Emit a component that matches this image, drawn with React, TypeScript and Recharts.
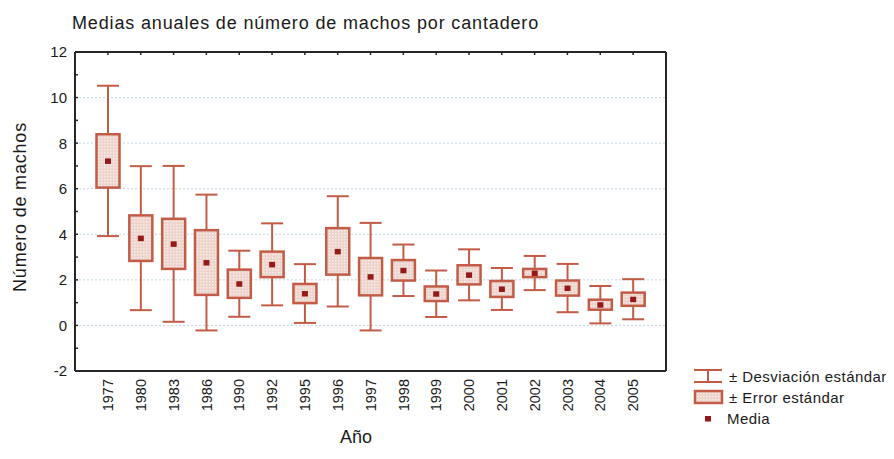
import React from 'react';
import { ComposedChart, Bar, XAxis, YAxis, CartesianGrid } from 'recharts';

const years = ['1977', '1980', '1983', '1986', '1990', '1992', '1995', '1996', '1997', '1998', '1999', '2000', '2001', '2002', '2003', '2004', '2005'];
const means = [7.22, 3.83, 3.58, 2.76, 1.83, 2.68, 1.4, 3.25, 2.14, 2.42, 1.39, 2.22, 1.6, 2.3, 1.64, 0.91, 1.15];
const stdErrs = [1.17, 1.0, 1.1, 1.42, 0.62, 0.56, 0.42, 1.02, 0.82, 0.45, 0.32, 0.42, 0.35, 0.18, 0.33, 0.22, 0.29];
const stdDevs = [3.3, 3.16, 3.42, 2.98, 1.45, 1.8, 1.29, 2.42, 2.36, 1.13, 1.02, 1.12, 0.92, 0.75, 1.06, 0.82, 0.88];
const yGridValues = [-2, 0, 2, 4, 6, 8, 10, 12];
const yAllTicks = [-2, -1, 0, 1, 2, 3, 4, 5, 6, 7, 8, 9, 10, 11, 12];
const yRightTicks = [0, 2, 4, 6, 8, 10];

const data = years.map((year, i) => ({
  year,
  mean: means[i],
  se: stdErrs[i],
  sd: stdDevs[i],
  sdRange: [means[i] - stdDevs[i], means[i] + stdDevs[i]],
}));

const STROKE = '#c25c47';
const MEAN_C = '#961818';
const FONT = '"Liberation Sans", Arial, sans-serif';
const TXT = '#1a1a1a';
const FRAME = '#262626';

function BoxShape(props: any) {
  const { x, y, width, height, payload } = props;
  if (!payload || height == null) return null;
  const lo = payload.mean - payload.sd;
  const hi = payload.mean + payload.sd;
  const toPx = (v: number) => y + ((hi - v) / (hi - lo)) * height;
  const cx = x + width / 2;
  const boxTop = toPx(payload.mean + payload.se);
  const boxBot = toPx(payload.mean - payload.se);
  const my = toPx(payload.mean);
  return (
    <g>
      <line x1={cx} x2={cx} y1={y} y2={boxTop} stroke={STROKE} strokeWidth={2} />
      <line x1={cx} x2={cx} y1={boxBot} y2={y + height} stroke={STROKE} strokeWidth={2} />
      <line x1={x + 0.5} x2={x + width - 0.5} y1={y} y2={y} stroke={STROKE} strokeWidth={2} />
      <line x1={x + 0.5} x2={x + width - 0.5} y1={y + height} y2={y + height} stroke={STROKE} strokeWidth={2} />
      <rect x={x} y={boxTop} width={width} height={boxBot - boxTop} fill="url(#dotFill)" stroke={STROKE} strokeWidth={2.5} />
      <rect x={cx - 3} y={my - 2.5} width={6} height={5.5} fill={MEAN_C} />
    </g>
  );
}

function YearTick(props: any) {
  const { x, y, payload } = props;
  return (
    <g transform={`translate(${x},${y})`}>
      <text transform="rotate(-90)" textAnchor="end" dy="0.36em" fontSize={14.5} fill={TXT} fontFamily={FONT}>
        {payload.value}
      </text>
    </g>
  );
}

function TopInTick(props: any) {
  const { x, y } = props;
  return <line x1={x} x2={x} y1={y} y2={y + 3} stroke={FRAME} strokeWidth={1.5} />;
}
function LeftTick(props: any) {
  const { x, y, payload } = props;
  const v = payload.value;
  return (
    <g>
      {v > -2 && v < 12 ? <line x1={x} x2={x + 3} y1={y} y2={y} stroke={FRAME} strokeWidth={1.5} /> : null}
      {v % 2 === 0 ? (
        <text x={x - 8} y={y} dy="0.36em" textAnchor="end" fontSize={15} fill={TXT} fontFamily={FONT}>
          {v}
        </text>
      ) : null}
    </g>
  );
}
function RightInTick(props: any) {
  const { x, y } = props;
  return <line x1={x - 3} x2={x} y1={y} y2={y} stroke={FRAME} strokeWidth={1.5} />;
}

export default function App() {
  return (
    <div style={{ position: 'relative', width: 886, height: 443, background: '#fff', fontFamily: FONT }}>
      <ComposedChart
        width={886}
        height={443}
        data={data}
        margin={{ top: 43, right: 227, bottom: 20, left: 10 }}
        barCategoryGap={0}
      >
        <defs>
          <pattern id="dotFill" width={3} height={3} patternUnits="userSpaceOnUse">
            <rect width={3} height={3} fill="#ecd3cc" />
            <rect width={1.5} height={1.5} fill="#f8ece8" />
          </pattern>
        </defs>
        <CartesianGrid vertical={false} stroke="#c3d9e6" strokeDasharray="2 2" horizontalValues={yGridValues} />
        <XAxis
          dataKey="year"
          type="category"
          padding={{ left: 16.5, right: 16.5 }}
          height={60}
          tickLine={false}
          axisLine={{ stroke: FRAME, strokeWidth: 2 }}
          interval={0}
          tick={<YearTick />}
        />
        <XAxis
          xAxisId="top"
          orientation="top"
          dataKey="year"
          type="category"
          padding={{ left: 16.5, right: 16.5 }}
          height={1}
          tick={<TopInTick />}
          tickSize={0}
          tickMargin={0}
          tickLine={false}
          axisLine={{ stroke: FRAME, strokeWidth: 2 }}
          interval={0}
        />
        <YAxis
          type="number"
          domain={[-2, 12]}
          ticks={yAllTicks}
          width={57}
          tickSize={0}
          tickMargin={0}
          tickLine={false}
          axisLine={{ stroke: FRAME, strokeWidth: 2 }}
          tick={<LeftTick />}
          interval={0}
        />
        <YAxis
          yAxisId="right"
          orientation="right"
          type="number"
          domain={[-2, 12]}
          ticks={yRightTicks}
          width={1}
          tick={<RightInTick />}
          tickSize={0}
          tickMargin={0}
          tickLine={false}
          axisLine={{ stroke: FRAME, strokeWidth: 2 }}
          interval={0}
        />
        <Bar dataKey="sdRange" barSize={23} shape={<BoxShape />} isAnimationActive={false} />
      </ComposedChart>
      <svg width={886} height={443} style={{ position: 'absolute', left: 0, top: 0, pointerEvents: 'none' }}>
        <text x={64} y={21} fontSize={18} letterSpacing={0.85} fill={TXT} fontFamily={FONT}>
          Medias anuales de número de machos por cantadero
        </text>
        <text
          transform="translate(12,199) rotate(-90)"
          textAnchor="middle"
          dy="0.36em"
          fontSize={18}
          letterSpacing={0.8}
          fill={TXT}
          fontFamily={FONT}
        >
          Número de machos
        </text>
        <text x={348} y={435} textAnchor="middle" fontSize={18} fill={TXT} fontFamily={FONT}>
          Año
        </text>
        <g transform="translate(680,358)">
          <g stroke={STROKE} strokeWidth={2} fill="none">
            <line x1={6} x2={34} y1={4} y2={4} />
            <line x1={20} x2={20} y1={4} y2={16} />
            <line x1={6} x2={34} y1={16} y2={16} />
            <rect x={7} y={25} width={27} height={12} fill="url(#dotFill)" strokeWidth={2.5} />
          </g>
          <rect x={17} y={50} width={6} height={5.5} fill={MEAN_C} />
          <text x={41} y={15.5} fontSize={15} letterSpacing={0.45} fill={TXT} fontFamily={FONT}>± Desviación estándar</text>
          <text x={41} y={36.5} fontSize={15} letterSpacing={0.45} fill={TXT} fontFamily={FONT}>± Error estándar</text>
          <text x={39} y={57.5} fontSize={15} letterSpacing={0.45} fill={TXT} fontFamily={FONT}>Media</text>
        </g>
      </svg>
    </div>
  );
}
